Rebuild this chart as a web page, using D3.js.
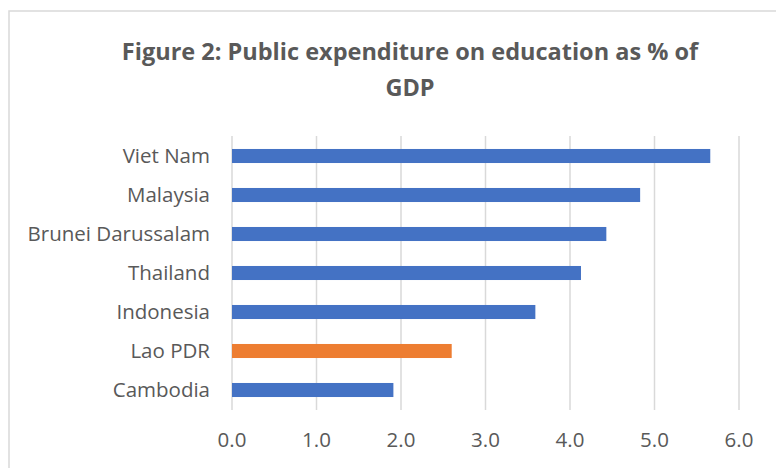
<!DOCTYPE html>
<html>
<head>
<meta charset="utf-8">
<script src="https://cdn.jsdelivr.net/npm/d3@7"></script>
<style>
  body { margin: 0; background: #fff; }
  text { font-family: "Open Sans", "Noto Sans", sans-serif; }
</style>
</head>
<body>
<script>
// Data
const countries = ["Viet Nam", "Malaysia", "Brunei Darussalam", "Thailand", "Indonesia", "Lao PDR", "Cambodia"];
const values = [5.66, 4.83, 4.43, 4.13, 3.59, 2.60, 1.91];
const highlight = ["Lao PDR"];
const ticks = [0, 1, 2, 3, 4, 5, 6];

const width = 776;
const height = 468;

let svg = d3.select("body")
    .append("svg")
    .attr("width", width)
    .attr("height", height);

// chart area border (only top and left show in the crop)
svg.append("rect")
    .attr("x", 9)
    .attr("y", 11)
    .attr("width", 800)
    .attr("height", 500)
    .attr("fill", "none")
    .attr("stroke", "#d9d9d9")
    .attr("stroke-width", 1.5);

// title
let title = svg.append("text")
    .attr("text-anchor", "middle")
    .attr("fill", "#595959")
    .attr("font-weight", "bold")
    .attr("font-size", 23.5);
title.append("tspan").attr("x", 410).attr("y", 60).text("Figure 2: Public expenditure on education as % of");
title.append("tspan").attr("x", 410).attr("y", 96).text("GDP");

let x = d3.scaleLinear().domain([0, 6]).range([232, 739]);
let y = d3.scaleBand().domain(countries).range([136.5, 409.5]).paddingInner(0.64).paddingOuter(0.32);

// gridlines
svg.append("g")
    .selectAll("line")
    .data(ticks)
    .enter()
        .append("line")
        .attr("x1", d => x(d))
        .attr("x2", d => x(d))
        .attr("y1", 136)
        .attr("y2", 410)
        .attr("stroke", "#d9d9d9")
        .attr("stroke-width", 1.5);

// bars
svg.append("g")
    .selectAll("rect")
    .data(countries)
    .enter()
        .append("rect")
        .attr("x", x(0))
        .attr("y", d => y(d))
        .attr("height", y.bandwidth())
        .attr("width", (d, i) => x(values[i]) - x(0))
        .attr("fill", d => highlight.includes(d) ? "#ED7D31" : "#4472C4");

// category labels
svg.append("g")
    .selectAll("text")
    .data(countries)
    .enter()
        .append("text")
        .attr("x", 210)
        .attr("y", d => y(d) + y.bandwidth() / 2)
        .attr("dy", "0.35em")
        .attr("text-anchor", "end")
        .attr("font-size", 20.5)
        .attr("fill", "#595959")
        .text(d => d);

// x tick labels
svg.append("g")
    .selectAll("text")
    .data(ticks)
    .enter()
        .append("text")
        .attr("x", d => x(d))
        .attr("y", 440)
        .attr("dy", "0.35em")
        .attr("text-anchor", "middle")
        .attr("font-size", 20.5)
        .attr("fill", "#595959")
        .text(d => d3.format(".1f")(d));
</script>
</body>
</html>
